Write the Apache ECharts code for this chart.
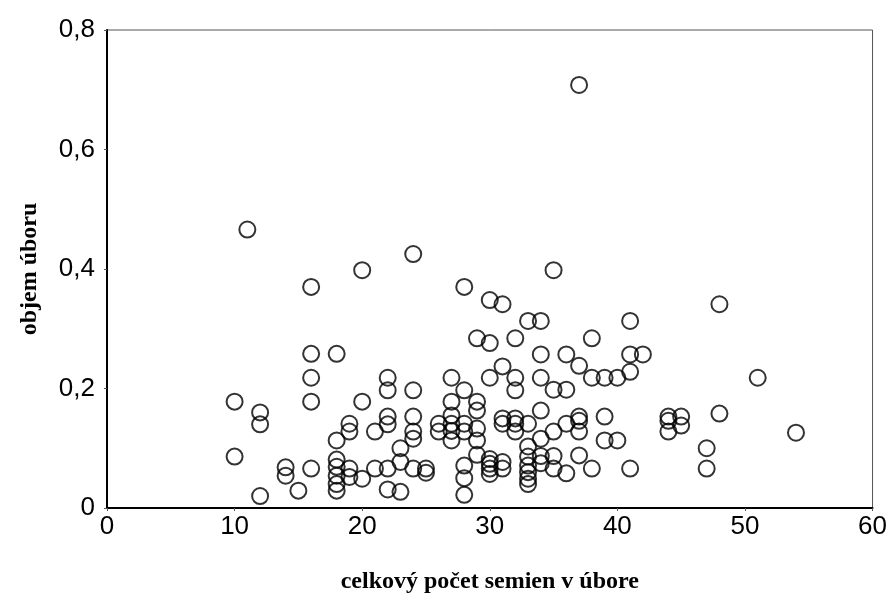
<!DOCTYPE html>
<html>
<head>
<meta charset="utf-8">
<script src="https://cdn.jsdelivr.net/npm/echarts@6/dist/echarts.min.js"></script>
<style>
  * { margin: 0; padding: 0; }
  body { background: #fff; }
  #chart { width: 890px; height: 605px; }
</style>
</head>
<body>
<div id="chart"></div>
<script>
// počet semien v úbore (x) a objem úboru (y), po stĺpcoch
const seedCounts = [
  10, 10, 11, 12, 12, 12, 14, 14, 15,
  16, 16, 16, 16, 16,
  18, 18, 18, 18, 18, 18, 18,
  19, 19, 19, 19, 20, 20, 20, 21, 21,
  22, 22, 22, 22, 22, 22, 23, 23, 23,
  24, 24, 24, 24, 24, 24, 25, 25, 26, 26,
  27, 27, 27, 27, 27, 27,
  28, 28, 28, 28, 28, 28, 28,
  29, 29, 29, 29, 29, 29,
  30, 30, 30, 30, 30, 30, 30,
  31, 31, 31, 31, 31, 31,
  32, 32, 32, 32, 32, 32,
  33, 33, 33, 33, 33, 33, 33, 33,
  34, 34, 34, 34, 34, 34, 34,
  35, 35, 35, 35, 35, 36, 36, 36, 36,
  37, 37, 37, 37, 37, 37,
  38, 38, 38, 39, 39, 39, 40, 40,
  41, 41, 41, 41, 42, 44, 44, 44, 45, 45,
  47, 47, 48, 48, 51, 54
];
const volumes = [
  0.178, 0.086, 0.466, 0.16, 0.14, 0.02, 0.068, 0.054, 0.029,
  0.37, 0.258, 0.218, 0.178, 0.066,
  0.258, 0.113, 0.081, 0.069, 0.054, 0.04, 0.029,
  0.141, 0.128, 0.066, 0.052, 0.398, 0.178, 0.049, 0.128, 0.066,
  0.218, 0.197, 0.153, 0.14, 0.066, 0.031, 0.1, 0.077, 0.027,
  0.425, 0.197, 0.153, 0.128, 0.116, 0.066, 0.066, 0.059, 0.141, 0.128,
  0.218, 0.178, 0.155, 0.141, 0.129, 0.113,
  0.37, 0.197, 0.141, 0.128, 0.071, 0.05, 0.022,
  0.284, 0.178, 0.163, 0.133, 0.113, 0.089,
  0.348, 0.276, 0.218, 0.082, 0.074, 0.066, 0.057,
  0.341, 0.237, 0.15, 0.141, 0.077, 0.066,
  0.284, 0.218, 0.197, 0.15, 0.141, 0.128,
  0.313, 0.141, 0.103, 0.086, 0.071, 0.06, 0.049, 0.04,
  0.313, 0.257, 0.218, 0.163, 0.116, 0.087, 0.075,
  0.398, 0.198, 0.128, 0.087, 0.066, 0.257, 0.198, 0.141, 0.058,
  0.708, 0.238, 0.153, 0.146, 0.128, 0.088,
  0.284, 0.218, 0.066, 0.218, 0.153, 0.113, 0.218, 0.113,
  0.313, 0.257, 0.228, 0.066, 0.257, 0.153, 0.146, 0.128, 0.153, 0.138,
  0.1, 0.066, 0.341, 0.158, 0.218, 0.126
];

const xTitle = "celkový počet semien v úbore";
const yTitle = "objem úboru";

const points = seedCounts.map((x, i) => [x, volumes[i]]);

const myChart = echarts.init(document.getElementById("chart"), null, { renderer: "canvas" });

const tickFont = {
  fontFamily: "Liberation Sans Narrow, Liberation Sans",
  fontSize: 26,
  color: "#000",
};
const titleFont = {
  fontFamily: "Liberation Serif",
  fontWeight: "bold",
  fontSize: 24,
  color: "#000",
};

const option = {
  animation: false,
  backgroundColor: "#fff",
  grid: {
    left: 107,
    right: 17,
    top: 30,
    bottom: 97,
    show: true,
    borderColor: "#555",
    borderWidth: 1,
  },
  xAxis: {
    type: "value",
    min: 0,
    max: 60,
    interval: 10,
    name: xTitle,
    nameLocation: "middle",
    nameGap: 62,
    nameTextStyle: titleFont,
    axisLine: { show: true, onZero: false, lineStyle: { color: "#000", width: 2 } },
    axisTick: { show: true, length: 3, lineStyle: { color: "#555" } },
    splitLine: { show: false },
    axisLabel: Object.assign({ margin: 6 }, tickFont),
  },
  yAxis: {
    type: "value",
    min: 0,
    max: 0.8,
    interval: 0.2,
    name: yTitle,
    nameLocation: "middle",
    nameGap: 65,
    nameRotate: 90,
    nameTextStyle: titleFont,
    axisLine: { show: true, onZero: false, lineStyle: { color: "#000", width: 2 } },
    axisTick: { show: true, length: 3, lineStyle: { color: "#555" } },
    splitLine: { show: false },
    axisLabel: Object.assign({
      margin: 12,
      formatter: (v) => (v === 0 ? "0" : v.toFixed(1).replace(".", ",")),
    }, tickFont),
  },
  series: [
    {
      type: "scatter",
      symbol: "circle",
      symbolSize: 16,
      itemStyle: {
        color: "rgba(255,255,255,0)",
        borderColor: "#000",
        borderWidth: 2,
      },
      data: points,
    },
  ],
};

myChart.setOption(option);
</script>
</body>
</html>
